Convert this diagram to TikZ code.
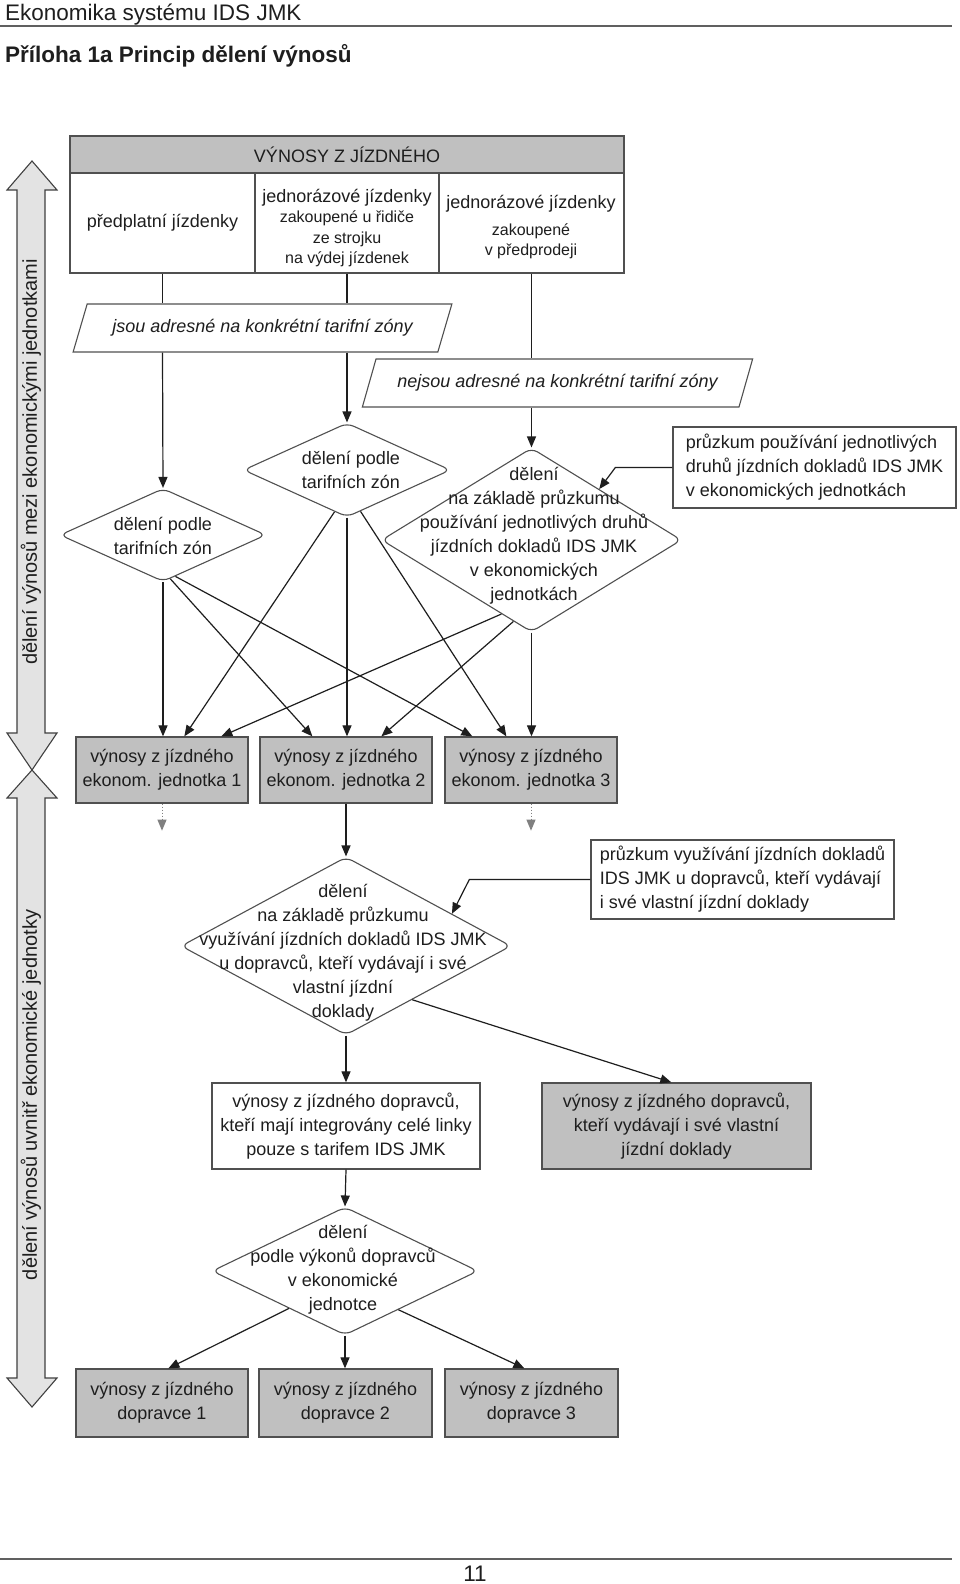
\documentclass[tikz,border=0pt]{standalone}
\usepackage{fontspec}
\setmainfont{Liberation Sans}
\usetikzlibrary{shapes.geometric,arrows.meta,calc}
\definecolor{ink}{HTML}{1E1E1E}
\definecolor{boxc}{HTML}{505050}
\definecolor{gfill}{HTML}{C0C0C0}
\definecolor{afill}{HTML}{E3E3E3}
\definecolor{rulec}{HTML}{606060}
\begin{document}
\begin{tikzpicture}[x=1pt,y=-1pt,
  txt/.style={font=\fontsize{18}{24}\selectfont, align=center, text=ink, inner sep=0pt},
  bx/.style={draw=boxc, line width=1.3pt, inner sep=0pt, txt},
  gbx/.style={bx, fill=gfill},
  dia/.style={diamond, draw=boxc, line width=1.1pt, rounded corners=7pt, inner sep=0pt, fill=white},
  para/.style={trapezium, trapezium left angle=54.7, trapezium right angle=125.3, trapezium stretches=true, draw=boxc, line width=1.1pt, inner sep=0pt, fill=white, text=ink, font=\itshape\fontsize{18}{22}\selectfont},
  con/.style={draw=ink, line width=1.2pt},
  arr/.style={con, -{Triangle[length=11pt,width=9pt]}},
  dotarr/.style={draw=gray, line width=1pt, dotted, -{Triangle[length=11pt,width=9pt]}},
  bigarr/.style={draw=ink!85, fill=afill, line width=1.1pt, line join=miter},
  side/.style={font=\fontsize{20}{24}\selectfont, text=ink, inner sep=0pt, rotate=90},
  rulel/.style={draw=rulec, line width=2pt}
]
\useasboundingbox (0,0) rectangle (960,1584);
\fill[white] (0,0) rectangle (960,1584);

% page header
\node[anchor=base west, inner sep=0pt, text=ink, font=\fontsize{22.5}{27}\selectfont] (hdr) at (5,20.5) {Ekonomika systému IDS JMK};
\draw[rulel] (0,26.5) -- (952,26.5);
\node[anchor=base west, inner sep=0pt, text=ink, font=\bfseries\fontsize{22.5}{27}\selectfont] (ttl) at (5,63) {Příloha 1a Princip dělení výnosů};
\draw[rulel] (0,1559) -- (952,1559);
\node[anchor=base, inner sep=0pt, text=ink, font=\fontsize{22.5}{27}\selectfont] (pg) at (475,1581) {11};

% side arrows
\draw[bigarr] (32,161) -- (57,190) -- (45,190) -- (45,733) -- (57,733) -- (32,770) -- (7,733) -- (17,733) -- (17,190) -- (7,190) -- cycle;
\draw[bigarr] (32,770) -- (57,798) -- (45,798) -- (45,1378) -- (57,1378) -- (32,1407) -- (7,1378) -- (17,1378) -- (17,798) -- (7,798) -- cycle;
\node[side] (l1) at (31,462) {dělení výnosů mezi ekonomickými jednotkami};
\node[side] (l2) at (31,1095) {dělení výnosů uvnitř ekonomické jednotky};

% top table
\node[gbx, minimum width=554pt, minimum height=37pt] (hd) at (347,154.5) {VÝNOSY Z JÍZDNÉHO};
\node[bx, minimum width=185pt, minimum height=100pt] (c1) at (162.5,223) {předplatní jízdenky};
\node[bx, minimum width=184pt, minimum height=100pt] (c2) at (347,223) {};
\node[bx, minimum width=185pt, minimum height=100pt] (c3) at (531.5,223) {};
\node[txt, font=\fontsize{16}{20.5}\selectfont] (c2t) at (347,228) {{\fontsize{18}{20.5}\selectfont jednorázové jízdenky}\\zakoupené u řidiče\\ze strojku\\na výdej jízdenek};
\node[txt, font=\fontsize{16}{20}\selectfont] (c3t) at (531,227) {{\fontsize{18}{20}\selectfont jednorázové jízdenky}\\[6.5pt]zakoupené\\v předprodeji};

% parallelograms
\node[para, minimum width=379pt, minimum height=48pt] (p1) at (262.5,328) {jsou adresné na konkrétní tarifní zóny};
\node[para, minimum width=391pt, minimum height=48pt] (p2) at (557.5,383) {nejsou adresné na konkrétní tarifní zóny};

% diamonds (upper)
\node[dia, minimum width=206pt, minimum height=93pt] (d1) at (163,535) {};
\node[txt] (d1t) at (163,536) {dělení podle\\tarifních zón};
\node[dia, minimum width=207pt, minimum height=94pt] (d2) at (347,470) {};
\node[txt] (d2t) at (351,470) {dělení podle\\tarifních zón};
\node[dia, minimum width=300pt, minimum height=184pt] (d3) at (531.5,540) {};
\node[txt] (d3t) at (534,536) {dělení\\na základě průzkumu\\používání jednotlivých druhů\\jízdních dokladů IDS JMK\\v ekonomických\\jednotkách};

% survey box 1
\node[bx, minimum width=283pt, minimum height=81pt, align=left] (pr1) at (814.5,467.5) {průzkum používání jednotlivých\\druhů jízdních dokladů IDS JMK\\v ekonomických jednotkách};

% row of economic units
\node[gbx, minimum width=172pt, minimum height=66pt] (e1) at (162,770) {výnosy z jízdného\\ekonom. jednotka 1};
\node[gbx, minimum width=172pt, minimum height=66pt] (e2) at (346,770) {výnosy z jízdného\\ekonom. jednotka 2};
\node[gbx, minimum width=172pt, minimum height=66pt] (e3) at (531,770) {výnosy z jízdného\\ekonom. jednotka 3};

% lower part
\node[dia, minimum width=330pt, minimum height=178pt] (d4) at (346,946) {};
\node[txt] (d4t) at (343,953) {dělení\\na základě průzkumu\\využívání jízdních dokladů IDS JMK\\u dopravců, kteří vydávají i své\\vlastní jízdní\\doklady};
\node[bx, minimum width=303pt, minimum height=79pt, align=left] (pr2) at (742.5,879.5) {průzkum využívání jízdních dokladů\\IDS JMK u dopravců, kteří vydávají\\i své vlastní jízdní doklady};
\node[bx, minimum width=268pt, minimum height=86pt] (wb) at (346,1126) {výnosy z jízdného dopravců,\\kteří mají integrovány celé linky\\pouze s tarifem IDS JMK};
\node[gbx, minimum width=269pt, minimum height=86pt] (gb) at (676.5,1126) {výnosy z jízdného dopravců,\\kteří vydávají i své vlastní\\jízdní doklady};
\node[dia, minimum width=266pt, minimum height=128pt] (d5) at (345,1271) {};
\node[txt] (d5t) at (343,1270) {dělení\\podle výkonů dopravců\\v ekonomické\\jednotce};
\node[gbx, minimum width=172pt, minimum height=68pt] (f1) at (162,1403) {výnosy z jízdného\\dopravce 1};
\node[gbx, minimum width=173pt, minimum height=68pt] (f2) at (345.5,1403) {výnosy z jízdného\\dopravce 2};
\node[gbx, minimum width=173pt, minimum height=68pt] (f3) at (531.5,1403) {výnosy z jízdného\\dopravce 3};

% connectors top
\draw[con] (c1.south) -- (c1.south |- p1.north);
\draw[arr] (c1.south |- p1.south) -- (d1.north);
\draw[con] (c2.south) -- (c2.south |- p1.north);
\draw[arr] (c2.south |- p1.south) -- (d2.north);
\draw[con] (c3.south) -- (c3.south |- p2.north);
\draw[arr] (c3.south |- p2.south) -- (d3.north);
\draw[arr] (pr1.west) -- ++(-57,0) -- ($(d3.north)!0.45!(d3.east)$);

% connectors to economic units
\draw[arr] (d1.south) -- (d1.south |- e1.north);
\draw[arr] ($(d1.south)!0.07!(d1.east)$) -- ($(e2.north west)+(53,0)$);
\draw[arr] ($(d1.south)!0.12!(d1.east)$) -- ($(e3.north west)+(28,0)$);
\draw[arr] ($(d2.south)!0.12!(d2.west)$) -- ($(e1.north west)+(109,0)$);
\draw[arr] (d2.south) -- (d2.south |- e2.north);
\draw[arr] ($(d2.south)!0.13!(d2.east)$) -- ($(e3.north west)+(62,0)$);
\draw[arr] ($(d3.west)!0.8!(d3.south)$) -- ($(e1.north west)+(146,0)$);
\draw[arr] ($(d3.west)!0.88!(d3.south)$) -- ($(e2.north west)+(122,0)$);
\draw[arr] (d3.south) -- (d3.south |- e3.north);

% lower connectors
\draw[dotarr] (e1.south) -- ++(0,27);
\draw[dotarr] (e3.south) -- ++(0,27);
\draw[arr] (e2.south) -- (d4.north);
\draw[arr] (pr2.west) -- ++(-121,0) -- ($(d4.north)!0.64!(d4.east)$);
\draw[arr] ($(d4.east)!0.6!(d4.south)$) -- ($(gb.north west)+(130,0)$);
\draw[arr] (d4.south) -- (wb.north);
\draw[arr] (wb.south) -- (d5.north);
\draw[arr] ($(d5.west)!0.58!(d5.south)$) -- ($(f1.north west)+(93,0)$);
\draw[arr] (d5.south) -- (d5.south |- f2.north);
\draw[arr] ($(d5.east)!0.6!(d5.south)$) -- ($(f3.north west)+(80,0)$);
\end{tikzpicture}
\end{document}
